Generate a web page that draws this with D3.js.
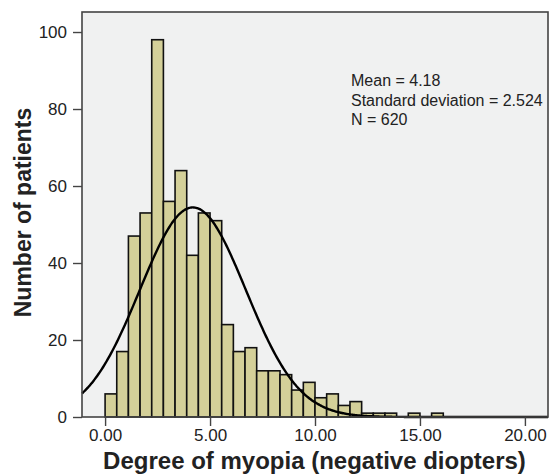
<!DOCTYPE html>
<html><head><meta charset="utf-8">
<script src="https://cdn.jsdelivr.net/npm/d3@7"></script>
<style>body{margin:0;background:#fff;} svg{display:block;font-family:"Liberation Sans",Arial,sans-serif;}</style>
</head><body><svg id="c" width="550" height="474"></svg>
<script>
const binWidth = 5/9;
const binStarts = d3.range(0, 29).map(i => i * binWidth);
const counts = [6,17,47,53,98,56,64,42,53,51,24,17,18,12,12,11,7,9,5,6,3,4,1,1,1,0,1,0,1];
const xTicks = [0,5,10,15,20];
const yTicks = [0,20,40,60,80,100];
const stats = ["Mean = 4.18","Standard deviation = 2.524","N = 620"];
const mean = 4.18, sd = 2.524, N = 620;

const W=550,H=474, m={l:82,t:12,r:2,b:57};
const svg=d3.select("#c");
const x=d3.scaleLinear().domain([-1.1,21.1]).range([m.l,W-m.r]);
const y=d3.scaleLinear().domain([0,105.2]).range([H-m.b,m.t]);

svg.append("rect").attr("x",m.l).attr("y",m.t).attr("width",W-m.r-m.l).attr("height",H-m.b-m.t).attr("fill","#f0f1f1");

svg.append("g").selectAll("rect").data(counts.map((c,i)=>({c,x0:binStarts[i]}))).join("rect")
 .filter(d=>d.c>0)
 .attr("x",d=>x(d.x0)).attr("width",d=>x(d.x0+binWidth)-x(d.x0))
 .attr("y",d=>y(d.c)).attr("height",d=>y(0)-y(d.c))
 .attr("fill","#d4d099").attr("stroke","#111").attr("stroke-width",1.6);

const pts=d3.range(0,401).map(i=>-1.1+i*22.2/400);
const line=d3.line().x(d=>x(d)).y(d=>y(N*binWidth*Math.exp(-0.5*((d-mean)/sd)**2)/(sd*Math.sqrt(2*Math.PI)))).curve(d3.curveBasis);
svg.append("path").datum(pts).attr("d",line).attr("fill","none").attr("stroke","#000").attr("stroke-width",2.4);

svg.append("rect").attr("x",m.l).attr("y",m.t).attr("width",W-m.r-m.l).attr("height",H-m.b-m.t).attr("fill","none").attr("stroke","#444").attr("stroke-width",1.6);

const xa=svg.append("g").attr("transform",`translate(0,${H-m.b})`).call(d3.axisBottom(x).tickValues(xTicks).tickFormat(d3.format(".2f")).tickSize(9).tickSizeOuter(0));
const ya=svg.append("g").attr("transform",`translate(${m.l},0)`).call(d3.axisLeft(y).tickValues(yTicks).tickSize(9).tickSizeOuter(0).tickPadding(6));
[xa,ya].forEach(a=>{a.select(".domain").remove();a.selectAll("line").attr("stroke","#444").attr("stroke-width",1.4);a.selectAll("text").attr("fill","#222").style("font-size","17px").style("font-family","'Liberation Sans',Arial,sans-serif");});
xa.selectAll("text").attr("dy","0.71em").attr("y",12);

svg.append("text").attr("x",314.5).attr("y",469).attr("text-anchor","middle").attr("font-weight","bold").attr("font-size","24px").attr("fill","#222").text("Degree of myopia (negative diopters)");
svg.append("text").attr("transform",`translate(31,${(105+320)/2}) rotate(-90)`).attr("text-anchor","middle").attr("font-weight","bold").attr("font-size","23px").attr("fill","#222").text("Number of patients");

svg.append("g").selectAll("text").data(stats).join("text").attr("x",351).attr("y",(d,i)=>86+i*19.5).attr("font-size","16px").attr("fill","#222").text(d=>d);
</script></body></html>
